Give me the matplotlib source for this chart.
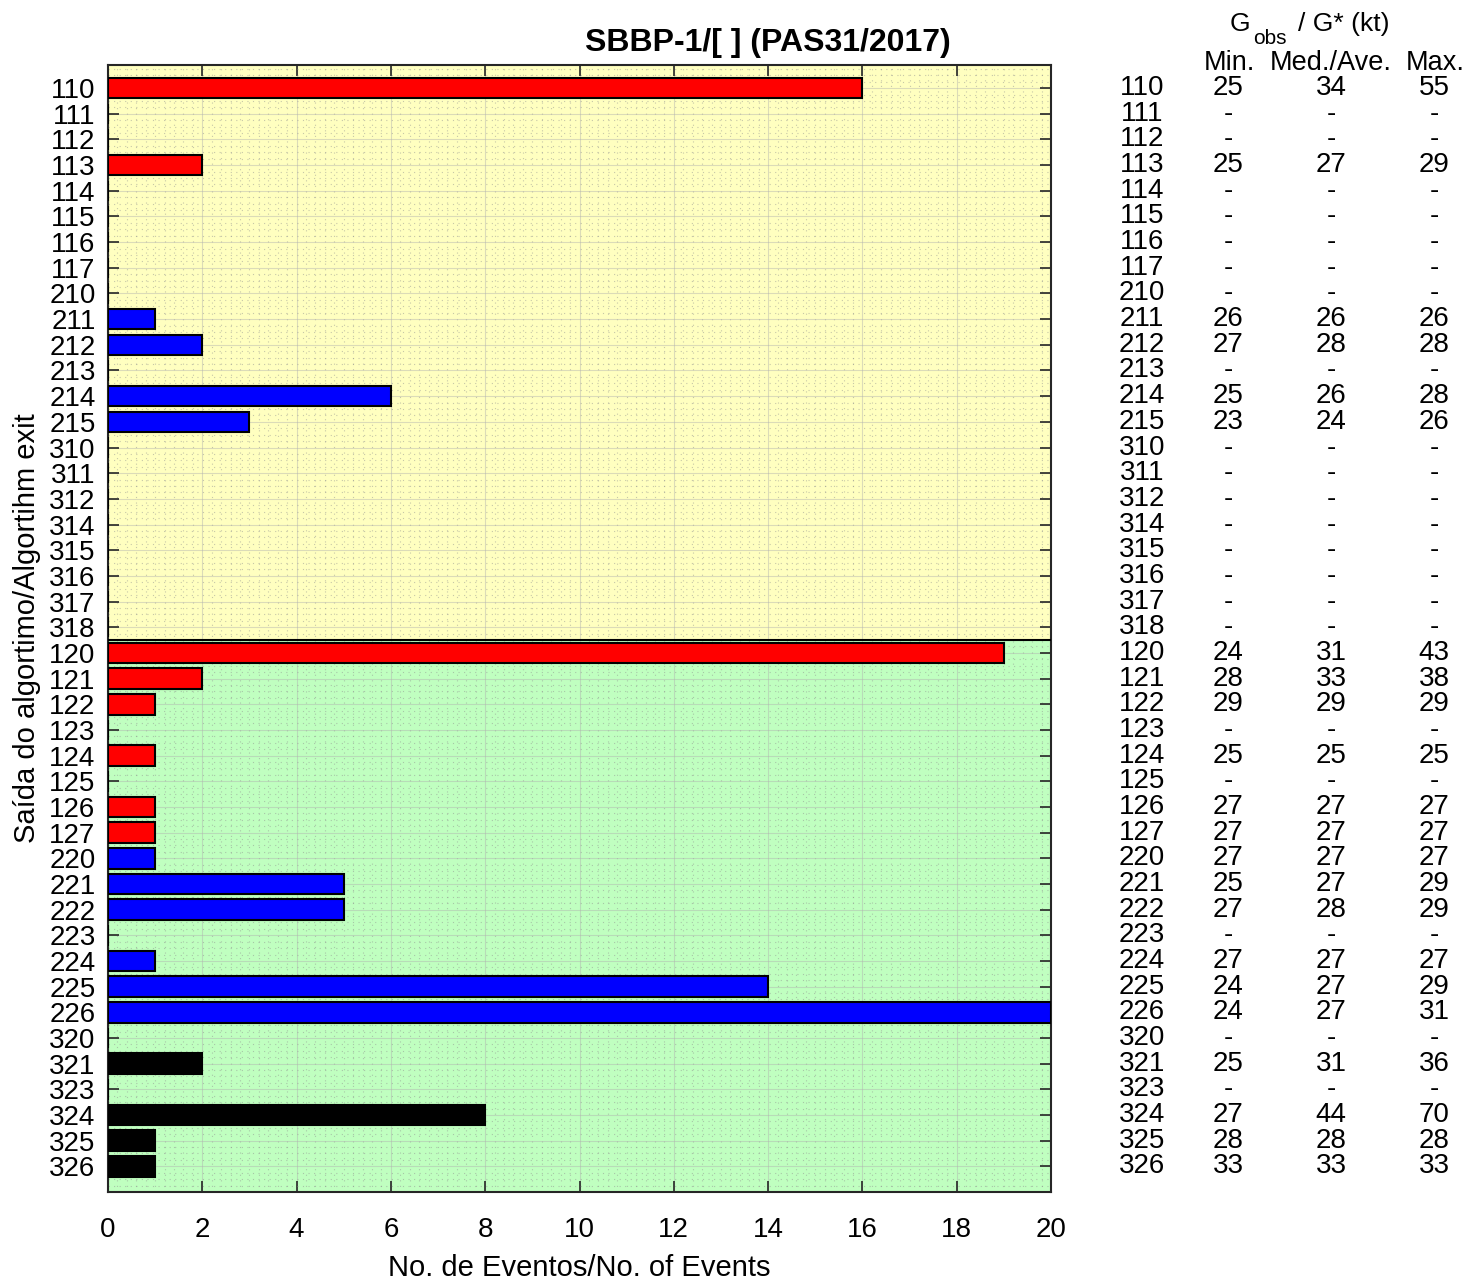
import matplotlib
matplotlib.use("Agg")
import matplotlib.pyplot as plt
from matplotlib.ticker import MultipleLocator
import matplotlib.transforms as mtransforms

plt.rcParams['font.family'] = ['Liberation Sans', 'DejaVu Sans']

codes = ['110','111','112','113','114','115','116','117',
         '210','211','212','213','214','215',
         '310','311','312','314','315','316','317','318',
         '120','121','122','123','124','125','126','127',
         '220','221','222','223','224','225','226',
         '320','321','323','324','325','326']
events = [16,0,0,2,0,0,0,0,
          0,1,2,0,6,3,
          0,0,0,0,0,0,0,0,
          19,2,1,0,1,0,1,1,
          1,5,5,0,1,14,20,
          0,2,0,8,1,1]
g_min = ['25','-','-','25','-','-','-','-',
         '-','26','27','-','25','23',
         '-','-','-','-','-','-','-','-',
         '24','28','29','-','25','-','27','27',
         '27','25','27','-','27','24','24',
         '-','25','-','27','28','33']
g_med = ['34','-','-','27','-','-','-','-',
         '-','26','28','-','26','24',
         '-','-','-','-','-','-','-','-',
         '31','33','29','-','25','-','27','27',
         '27','27','28','-','27','27','27',
         '-','31','-','44','28','33']
g_max = ['55','-','-','29','-','-','-','-',
         '-','26','28','-','28','26',
         '-','-','-','-','-','-','-','-',
         '43','38','29','-','25','-','27','27',
         '27','29','29','-','27','29','31',
         '-','36','-','70','28','33']
n_top = 22  # number of rows in upper (yellow) block

colour_map = {'1': '#ff0000', '2': '#0000ff', '3': '#000000'}
bar_colors = [colour_map[c[0]] for c in codes]

fig = plt.figure(figsize=(14.67, 12.81), dpi=100)
ax = fig.add_axes([108/1467, 89/1281, (1051-108)/1467, (1192-65)/1281])

n = len(codes)
ypos = list(range(1, n + 1))
ax.set_ylim(n + 1, 0.1)
ax.set_xlim(0, 20)

ax.axhspan(0, n_top + 0.5, color='#ffffc0', zorder=0)
ax.axhspan(n_top + 0.5, n + 1, color='#c0ffc0', zorder=0)
ax.axhline(n_top + 0.5, color='black', lw=1.5, zorder=3)

ax.barh(ypos, events, height=0.8, color=bar_colors, edgecolor='black',
        linewidth=1.5, zorder=4)

ax.set_yticks(ypos)
ax.set_yticklabels(codes)
ax.set_xticks(range(0, 21, 2))
ax.xaxis.set_minor_locator(MultipleLocator(0.2))
ax.yaxis.set_minor_locator(MultipleLocator(0.25))
ax.grid(True, which='major', color='#b0b0b0', lw=0.8, alpha=0.45, zorder=1)
ax.grid(True, which='minor', color='#909090', lw=0.8, ls=(0, (1, 4)), alpha=0.5, zorder=1)
ax.set_axisbelow(True)
ax.tick_params(axis='both', which='major', direction='in', length=8, width=1.2,
               top=True, right=True, labelsize=20, color='#262626')
ax.tick_params(axis='x', which='major', pad=18)
ax.tick_params(axis='y', which='major', pad=9)
ax.tick_params(which='minor', length=0)
for s in ax.spines.values():
    s.set_linewidth(1.5)
    s.set_color('#262626')

ax.set_xlabel('No. de Eventos/No. of Events', fontsize=21, labelpad=8)
ax.set_ylabel('Saída do algortimo/Algortihm exit', fontsize=21, labelpad=6)
fig.text(768/1467, 1 - 43/1281, 'SBBP-1/[ ] (PAS31/2017)', fontsize=23,
         fontweight='bold', ha='center', va='center')

# side table
trans = mtransforms.blended_transform_factory(fig.transFigure, ax.transData)
cols_x = [1142/1467, 1228/1467, 1331/1467, 1434/1467]
for i, y in enumerate(ypos):
    for x, txt in zip(cols_x, [codes[i], g_min[i], g_med[i], g_max[i]]):
        ax.text(x, y, txt, transform=trans, ha='center', va='center',
                fontsize=20, clip_on=False)

fig.text(1229/1467, 1 - 63/1281, 'Min.', ha='center', va='center', fontsize=19.5)
fig.text(1331/1467, 1 - 63/1281, 'Med./Ave.', ha='center', va='center', fontsize=19.5)
fig.text(1435/1467, 1 - 63/1281, 'Max.', ha='center', va='center', fontsize=19.5)
fig.text(1230/1467, 1 - 24/1281, 'G', ha='left', va='center', fontsize=19)
fig.text(1253/1467, 1 - 38/1281, 'obs', ha='left', va='center', fontsize=15)
fig.text(1298/1467, 1 - 24/1281, '/ G* (kt)', ha='left', va='center', fontsize=19)

fig.savefig('out.png', dpi=100)
